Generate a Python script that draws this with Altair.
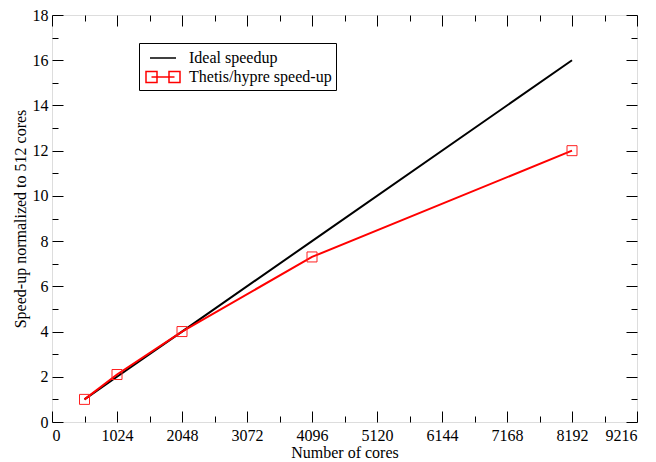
import altair as alt
import pandas as pd

cores = [512, 1024, 2048, 4096, 8192]
ideal_speedup = [1, 2, 4, 8, 16]
thetis_speedup = [1.0, 2.1, 4.0, 7.3, 12.0]
series_names = ["Ideal speedup", "Thetis/hypre speed-up"]
series_colors = ["black", "#ff0000"]
legend_shapes = [
    "M-0.4,0H2.2",
    "M-0.8,-0.55H0.3V0.55H-0.8Z M1.5,-0.55H2.6V0.55H1.5Z M-0.25,0H2.05",
]
x_major = [0, 1024, 2048, 3072, 4096, 5120, 6144, 7168, 8192, 9216]
x_minor = [512, 1536, 2560, 3584, 4608, 5632, 6656, 7680, 8704]
y_major = [0, 2, 4, 6, 8, 10, 12, 14, 16, 18]
y_minor = [1, 3, 5, 7, 9, 11, 13, 15, 17]

df = pd.DataFrame({
    "cores": cores + cores,
    "speedup": ideal_speedup + thetis_speedup,
    "series": [series_names[0]] * len(cores) + [series_names[1]] * len(cores),
})
thetis = df[df["series"] == series_names[1]]

FONT = "Liberation Serif"
MAJ = {"expr": "-11"}
MIN = {"expr": "-6"}

xs = alt.Scale(domain=[0, 9216], nice=False, zero=False)
ys = alt.Scale(domain=[0, 18], nice=False, zero=False)
cs = alt.Scale(domain=series_names, range=series_colors)
ss = alt.Scale(domain=series_names, range=legend_shapes)


def ax(values, orient, size, labels=False, title=None, pad=0, tpad=0):
    kw = dict(values=values, orient=orient, tickSize=size, labels=labels, title=title,
              domain=False, grid=False, tickColor="black", tickWidth=1, format="d",
              labelFont=FONT, labelFontSize=16, labelColor="black",
              titleFont=FONT, titleFontSize=16, titleFontWeight="normal", titleColor="black")
    if labels:
        kw["labelPadding"] = pad
        kw["titlePadding"] = tpad
    return alt.Axis(**kw)


def leg():
    return alt.Legend(
        title=None, orient="none", legendX=87, legendY=28, strokeColor="black",
        fillColor="white", padding=4, labelFont=FONT, labelFontSize=16, labelColor="black",
        symbolSize=400, symbolStrokeWidth=1.5, rowPadding=0, labelOffset=24)


lines = alt.Chart(df).mark_line(strokeWidth=2).encode(
    x=alt.X("cores:Q", scale=xs, axis=ax(x_major, "bottom", MAJ, True, "Number of cores", 16, 1)),
    y=alt.Y("speedup:Q", scale=ys, axis=ax(y_major, "left", MAJ, True, "Speed-up normalized to 512 cores", 15, 4)),
    color=alt.Color("series:N", scale=cs, legend=leg()),
    detail="series:N",
)

pts = alt.Chart(thetis).mark_point(shape="square", filled=False, size=100, strokeWidth=1, opacity=1).encode(
    x=alt.X("cores:Q", scale=xs, axis=ax(x_minor, "bottom", MIN)),
    y=alt.Y("speedup:Q", scale=ys, axis=ax(y_minor, "left", MIN)),
    color=alt.value("#ff2020"),
)

top_right = alt.Chart(thetis).mark_point(shape="square", filled=False, size=100, strokeWidth=1, opacity=0).encode(
    x=alt.X("cores:Q", scale=xs, axis=ax(x_major, "top", MAJ)),
    y=alt.Y("speedup:Q", scale=ys, axis=ax(y_major, "right", MAJ)),
)

legend_layer = alt.Chart(df).mark_point(filled=False, opacity=0).encode(
    x=alt.X("cores:Q", scale=xs, axis=ax(x_minor, "top", MIN)),
    y=alt.Y("speedup:Q", scale=ys, axis=ax(y_minor, "right", MIN)),
    color=alt.Color("series:N", scale=cs, legend=leg()),
    shape=alt.Shape("series:N", scale=ss, legend=leg()),
)

chart = alt.layer(lines, pts, top_right, legend_layer).resolve_axis(
    x="independent", y="independent"
).properties(
    width=585, height=407,
    padding={"left": 44, "top": 7, "right": 11, "bottom": 40},
    autosize="none",
).configure_view(stroke="black", strokeWidth=1.5).configure(background="white")

chart.save("out.html", embed_options={"renderer": "svg", "actions": False})
